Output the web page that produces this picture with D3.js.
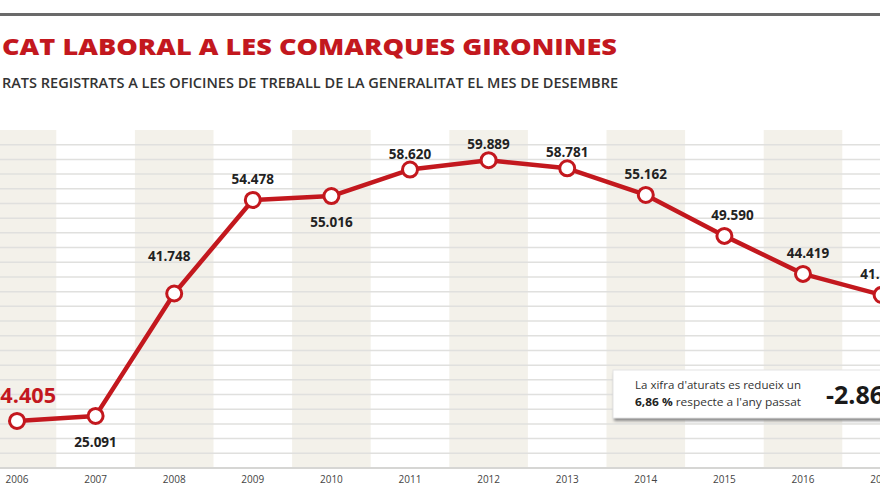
<!DOCTYPE html>
<html>
<head>
<meta charset="utf-8">
<script src="https://cdn.jsdelivr.net/npm/d3@7"></script>
<style>
  html, body { margin: 0; padding: 0; background: #fff; }
  svg { display: block; }
</style>
</head>
<body>
<svg id="chart" width="880" height="495"></svg>
<script>
// ---- data ----
const years = ["2006","2007","2008","2009","2010","2011","2012","2013","2014","2015","2016","2017"];
const unemployed = [24.405, 25.091, 41.748, 54.478, 55.016, 58.620, 59.889, 58.781, 55.162, 49.590, 44.419, 41.553];
const labelSide = ["first","below","above","above","below","above","above","above","above","above","above","above"];
const gridTicks = d3.range(18, 63, 2);
const titleText = "CAT LABORAL A LES COMARQUES GIRONINES";
const subtitleText = "RATS REGISTRATS A LES OFICINES DE TREBALL DE LA GENERALITAT EL MES DE DESEMBRE";
const boxLine1 = "La xifra d'aturats es redueix un";
const boxLine2Bold = "6,86 %";
const boxLine2 = " respecte a l'any passat";
const boxValue = "-2.866";

// ---- layout ----
const svg = d3.select("#chart");
const W = 880, H = 495;
const plotTop = 130, plotBottom = 468;
const red = "#c3181e";

const x = d3.scaleBand().domain(years).range([-22.3, -22.3 + 78.6 * years.length]).padding(0);
const y = d3.scaleLinear().domain([18, 64]).range([plotBottom, plotTop]);
const cx = d => x(d) + x.bandwidth() / 2;

const defs = svg.append("defs");
const f = defs.append("filter").attr("id", "shadow").attr("x", "-10%").attr("y", "-30%").attr("width", "120%").attr("height", "170%");
f.append("feGaussianBlur").attr("stdDeviation", 1.6);

// top rule
svg.append("rect").attr("x", 0).attr("y", 13).attr("width", W).attr("height", 3).attr("fill", "#6a6a6a");

// title / subtitle
svg.append("text").attr("x", 2).attr("y", 55)
  .attr("font-family", "Open Sans").attr("font-weight", 800).attr("font-size", 23)
  .attr("fill", red).attr("textLength", 615).attr("lengthAdjust", "spacingAndGlyphs")
  .text(titleText);
svg.append("text").attr("x", 2).attr("y", 88)
  .attr("font-family", "Open Sans").attr("font-weight", 600).attr("font-size", 14)
  .attr("fill", "#333").attr("textLength", 616).attr("lengthAdjust", "spacingAndGlyphs")
  .text(subtitleText);

// shaded columns
svg.append("g").selectAll("rect")
  .data(years.filter((d, i) => i % 2 === 0))
  .join("rect")
  .attr("x", d => x(d)).attr("y", plotTop)
  .attr("width", x.bandwidth()).attr("height", plotBottom - plotTop)
  .attr("fill", "#f3f1ea");

// gridlines
svg.append("g").selectAll("line")
  .data(gridTicks.slice(1))
  .join("line")
  .attr("x1", 0).attr("x2", W)
  .attr("y1", d => y(d)).attr("y2", d => y(d))
  .attr("stroke", "#e0e0de").attr("stroke-width", 1.5);

// baseline
svg.append("line").attr("x1", 0).attr("x2", W)
  .attr("y1", y(gridTicks[0])).attr("y2", y(gridTicks[0]))
  .attr("stroke", "#d6d6d4").attr("stroke-width", 2);

// x axis labels
const xAxis = d3.axisBottom(x).tickSize(0).tickPadding(8);
const gx = svg.append("g").attr("transform", `translate(0,${plotBottom})`).call(xAxis);
gx.select(".domain").remove();
gx.selectAll("text").attr("font-family", "Open Sans").attr("font-size", 10).attr("fill", "#444");

// line
const pts = years.map((d, i) => ({ year: d, v: unemployed[i], side: labelSide[i] }));
svg.append("path").datum(pts)
  .attr("d", d3.line().x(d => cx(d.year)).y(d => y(d.v)))
  .attr("fill", "none").attr("stroke", red).attr("stroke-width", 4.5).attr("stroke-linejoin", "round");

// markers
svg.append("g").selectAll("circle").data(pts).join("circle")
  .attr("cx", d => cx(d.year)).attr("cy", d => y(d.v)).attr("r", 7.5)
  .attr("fill", "#fff").attr("stroke", red).attr("stroke-width", 3);

// labels
const fmt = v => v.toFixed(3);
const lbl = svg.append("g").selectAll("text").data(pts).join("text")
  .attr("x", d => d.side === "first" ? cx(d.year) - 29 : cx(d.year) + (d.year === "2008" ? -5 : (d.year === "2015" ? 8 : (d.year === "2016" ? 5 : 0))))
  .attr("y", d => {
    const py = y(d.v);
    if (d.side === "first") return py - 18;
    if (d.side === "below") return py + 31;
    if (d.year === "2008") return py - 33;
    if (d.year === "2011" || d.year === "2012" || d.year === "2013") return py - 11;
    return py - 16;
  })
  .attr("text-anchor", d => d.side === "first" ? "start" : "middle")
  .attr("font-family", "Open Sans").attr("font-weight", 700)
  .attr("font-size", d => d.side === "first" ? 21 : 13.5)
  .attr("fill", d => d.side === "first" ? red : "#222")
  .text(d => fmt(d.v));
lbl.filter(d => d.side === "first").attr("textLength", 68).attr("lengthAdjust", "spacingAndGlyphs");

// info box
const bx = 613, by = 370, bw = 280, bh = 48;
svg.append("rect").attr("x", bx + 1).attr("y", by + 3).attr("width", bw).attr("height", bh)
  .attr("fill", "#888").attr("filter", "url(#shadow)");
svg.append("rect").attr("x", bx).attr("y", by).attr("width", bw).attr("height", bh)
  .attr("fill", "#fff").attr("stroke", "#e4e4e4").attr("stroke-width", 1);
svg.append("text").attr("x", 635).attr("y", 389)
  .attr("font-family", "Open Sans").attr("font-size", 11).attr("fill", "#333")
  .attr("textLength", 166).attr("lengthAdjust", "spacingAndGlyphs")
  .text(boxLine1);
const t2 = svg.append("text").attr("x", 635).attr("y", 406)
  .attr("font-family", "Open Sans").attr("font-size", 11).attr("fill", "#333")
  .attr("textLength", 166).attr("lengthAdjust", "spacingAndGlyphs");
t2.append("tspan").attr("font-weight", 700).attr("fill", "#222").text(boxLine2Bold);
t2.append("tspan").text(boxLine2);
svg.append("text").attr("x", 826).attr("y", 404)
  .attr("font-family", "Open Sans").attr("font-weight", 700).attr("font-size", 25)
  .attr("fill", "#1a1a1a").text(boxValue);
</script>
</body>
</html>
